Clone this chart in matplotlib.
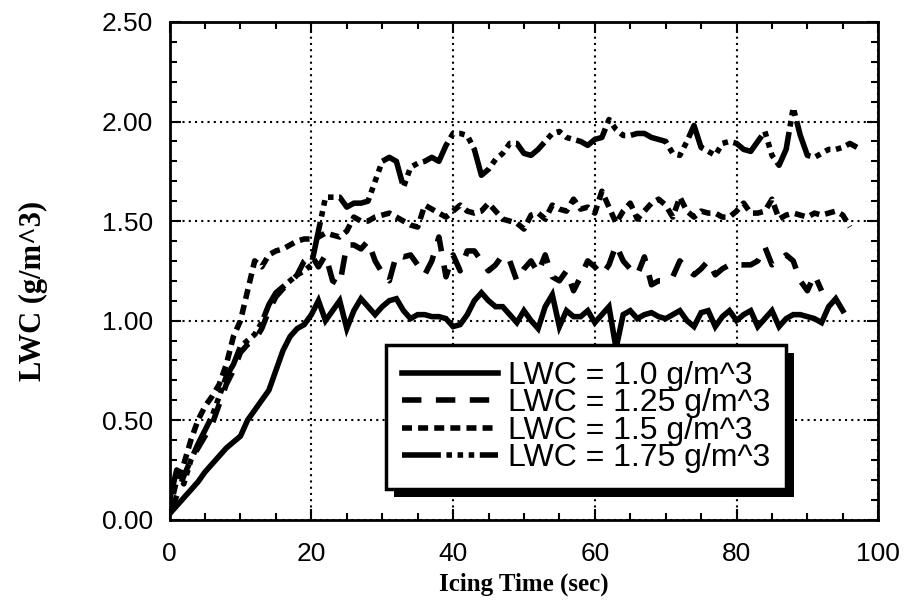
import numpy as np
import matplotlib
matplotlib.use("Agg")
import matplotlib.pyplot as plt
from matplotlib.patches import Rectangle
from matplotlib.ticker import MultipleLocator, FormatStrFormatter

plt.rcParams['font.family'] = ['Liberation Sans', 'DejaVu Sans']

# measured LWC traces, one sample per second
lwc_100 = [0.03, 0.07, 0.11, 0.15, 0.19, 0.24, 0.28, 0.32, 0.36, 0.39,
           0.42, 0.50, 0.55, 0.60, 0.65, 0.75, 0.85, 0.92, 0.96, 0.98,
           1.03, 1.10, 1.00, 1.05, 1.10, 0.96, 1.05, 1.11, 1.07, 1.03,
           1.07, 1.10, 1.11, 1.05, 1.01, 1.03, 1.03, 1.02, 1.02, 1.01,
           0.97, 0.98, 1.03, 1.10, 1.14, 1.10, 1.07, 1.07, 1.03, 0.99,
           1.05, 1.00, 0.96, 1.07, 1.13, 0.97, 1.05, 1.02, 1.02, 1.05,
           0.99, 1.03, 1.07, 0.86, 1.03, 1.05, 1.01, 1.03, 1.04, 1.02,
           1.01, 1.03, 1.05, 1.00, 0.97, 1.04, 1.05, 0.97, 1.02, 1.05,
           1.00, 1.03, 1.05, 0.97, 1.01, 1.05, 0.97, 1.01, 1.03, 1.03,
           1.02, 1.01, 0.99, 1.07, 1.11, 1.05]

lwc_125 = [0.03, 0.12, 0.22, 0.30, 0.36, 0.42, 0.48, 0.58, 0.68, 0.75,
           0.84, 0.88, 0.90, 0.96, 1.05, 1.12, 1.16, 1.19, 1.23, 1.30,
           1.33, 1.27, 1.33, 1.20, 1.18, 1.38, 1.38, 1.36, 1.40, 1.30,
           1.24, 1.20, 1.33, 1.32, 1.33, 1.28, 1.23, 1.30, 1.42, 1.22,
           1.33, 1.25, 1.35, 1.35, 1.30, 1.25, 1.28, 1.33, 1.30, 1.20,
           1.26, 1.30, 1.24, 1.33, 1.22, 1.20, 1.25, 1.15, 1.22, 1.30,
           1.27, 1.23, 1.28, 1.38, 1.30, 1.26, 1.23, 1.32, 1.18, 1.20,
           1.20, 1.22, 1.30, 1.26, 1.23, 1.26, 1.30, 1.23, 1.26, 1.28,
           1.28, 1.28, 1.28, 1.30, 1.37, 1.28, 1.30, 1.33, 1.30, 1.20,
           1.15, 1.23, 1.15]

lwc_150 = [0.05, 0.20, 0.28, 0.40, 0.50, 0.57, 0.62, 0.68, 0.78, 0.92,
           1.00, 1.15, 1.30, 1.27, 1.33, 1.35, 1.36, 1.38, 1.40, 1.41,
           1.41, 1.42, 1.44, 1.43, 1.42, 1.45, 1.52, 1.50, 1.50, 1.52,
           1.53, 1.54, 1.52, 1.50, 1.48, 1.47, 1.58, 1.56, 1.54, 1.52,
           1.55, 1.58, 1.55, 1.54, 1.55, 1.59, 1.55, 1.51, 1.50, 1.49,
           1.46, 1.53, 1.54, 1.51, 1.58, 1.56, 1.55, 1.61, 1.56, 1.57,
           1.54, 1.65, 1.57, 1.49, 1.55, 1.59, 1.51, 1.55, 1.59, 1.61,
           1.58, 1.52, 1.62, 1.55, 1.52, 1.55, 1.54, 1.54, 1.52, 1.52,
           1.55, 1.59, 1.54, 1.54, 1.55, 1.61, 1.51, 1.53, 1.54, 1.53,
           1.52, 1.54, 1.53, 1.54, 1.55, 1.53, 1.47]

lwc_175 = [0.10, 0.25, 0.18, 0.30, 0.38, 0.45, 0.52, 0.62, 0.72, 0.78,
           0.87, 0.90, 0.93, 0.99, 1.08, 1.14, 1.17, 1.20, 1.23, 1.25,
           1.28, 1.45, 1.62, 1.62, 1.62, 1.57, 1.59, 1.59, 1.60, 1.70,
           1.80, 1.82, 1.80, 1.67, 1.77, 1.79, 1.80, 1.82, 1.80, 1.88,
           1.94, 1.94, 1.93, 1.86, 1.73, 1.76, 1.81, 1.84, 1.89, 1.89,
           1.84, 1.83, 1.86, 1.90, 1.94, 1.95, 1.92, 1.91, 1.90, 1.88,
           1.91, 1.92, 2.01, 1.96, 1.93, 1.93, 1.94, 1.94, 1.92, 1.91,
           1.90, 1.84, 1.83, 1.90, 1.98, 1.87, 1.85, 1.83, 1.89, 1.90,
           1.89, 1.86, 1.85, 1.90, 1.95, 1.83, 1.78, 1.86, 2.07, 1.93,
           1.83, 1.82, 1.84, 1.86, 1.86, 1.87, 1.89, 1.87]

labels = ["LWC = 1.0 g/m^3", "LWC = 1.25 g/m^3",
          "LWC = 1.5 g/m^3", "LWC = 1.75 g/m^3"]

series = [lwc_100, lwc_125, lwc_150, lwc_175]
dash_styles = [None, (3.5, 2.6), (1.8, 1.1), (7, 1, 1, 1, 1, 1, 1, 1)]

fig = plt.figure(figsize=(9.12, 6.10), dpi=100)
ax = fig.add_axes([0.186, 0.148, 0.777, 0.816])

for vals, lab, ds in zip(series, labels, dash_styles):
    t = np.arange(len(vals))
    if ds is None:
        ax.plot(t, vals, color='k', lw=4, label=lab, solid_joinstyle='miter')
    else:
        ax.plot(t, vals, color='k', lw=4, label=lab, dashes=ds,
                dash_capstyle='butt')

ax.set_xlim(0, 100)
ax.set_ylim(0, 2.5)
ax.xaxis.set_major_locator(MultipleLocator(20))
ax.xaxis.set_minor_locator(MultipleLocator(5))
ax.yaxis.set_major_locator(MultipleLocator(0.5))
ax.yaxis.set_minor_locator(MultipleLocator(0.1))
ax.yaxis.set_major_formatter(FormatStrFormatter('%.2f'))

ax.grid(True, which='major', color='k', linestyle=(0, (1, 2)), lw=1.5)
ax.set_axisbelow(True)
ax.tick_params(which='both', direction='in', top=True, right=True,
               width=1.5, labelsize=19)
ax.tick_params(axis='x', which='major', pad=16)
ax.tick_params(axis='y', which='major', pad=12)
ax.tick_params(which='major', length=8)
ax.tick_params(which='minor', length=5)
for sp in ax.spines.values():
    sp.set_linewidth(2)

label_font = dict(family=['Liberation Serif', 'DejaVu Serif'],
                  weight='bold')
ax.set_xlabel("Icing Time (sec)", labelpad=5, size=18, **label_font)
ax.set_ylabel("LWC (g/m^3)", size=22, **label_font)
ax.yaxis.set_label_coords(-0.172, 0.46)

leg = ax.legend(loc='upper left', bbox_to_anchor=(0.306, 0.351),
                borderaxespad=0, fontsize=23, handlelength=3.0,
                handletextpad=0.3, labelspacing=-0.08, borderpad=0.5,
                fancybox=False, framealpha=1, edgecolor='k')
leg.get_frame().set_linewidth(2.5)
leg.set_zorder(6)

# heavy drop shadow behind the legend box
fig.canvas.draw()
bb = leg.get_window_extent().transformed(fig.transFigure.inverted())
off_x, off_y = 8 / 912, 8 / 610
shadow = Rectangle((bb.x0 + off_x, bb.y0 - off_y), bb.width, bb.height,
                   transform=fig.transFigure, facecolor='k', edgecolor='none',
                   zorder=5, clip_on=False)
ax.add_artist(shadow)

fig.savefig("out.png", dpi=100)
